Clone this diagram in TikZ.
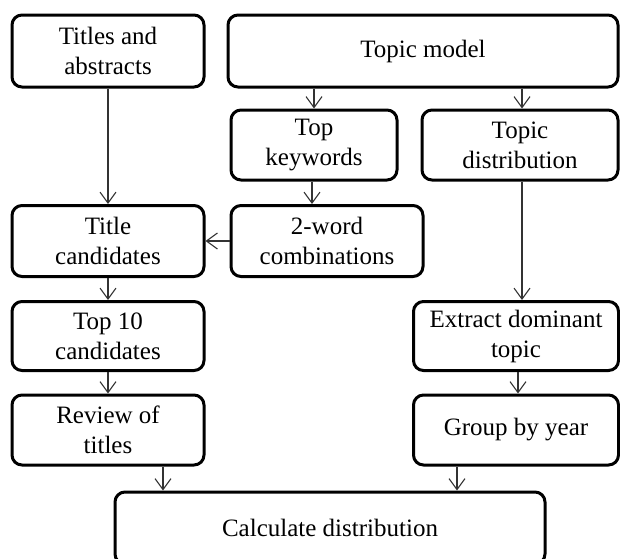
\documentclass[tikz,border=0pt]{standalone}
\usepackage{fontspec}
\setmainfont{Liberation Serif}
\usetikzlibrary{arrows.meta}
\begin{document}
\begin{tikzpicture}[x=1pt, y=-1pt,
		box/.style = {draw, line width=3pt, rounded corners=10pt, align=center, inner sep=0pt,
			font=\fontsize{25}{30}\selectfont},
		arr/.style = {line width=1.1pt, draw=black!80, -{Straight Barb[length=11pt, width=16pt, line width=1.1pt]}}]
		\useasboundingbox (0,0) rectangle (620,558);
		\node[box, minimum width=192pt, minimum height=72pt] (titles) at (108,51) {Titles and\\abstracts};
		\node[box, minimum width=390pt, minimum height=72pt] (model) at (423,51) {Topic model};
		\node[box, minimum width=166pt, minimum height=70pt] (keywords) at (314,145) {Top\\keywords};
		\node[box, minimum width=196pt, minimum height=70pt] (tdist) at (520,145) {Topic\\distribution};
		\node[box, minimum width=192pt, minimum height=71pt] (cands) at (108,241) {Title\\candidates};
		\node[box, minimum width=192pt, minimum height=71pt] (combos) at (327,241) {2-word\\combinations};
		\node[box, minimum width=192pt, minimum height=69pt] (top10) at (108,336) {Top 10\\candidates};
		\node[box, minimum width=192pt, minimum height=70pt] (review) at (108,430) {Review of\\titles};
		\node[box, minimum width=205pt, minimum height=69pt] (dominant) at (516,336) {Extract dominant\\topic};
		\node[box, minimum width=205pt, minimum height=70pt] (year) at (516,430) {Group by year};
		\node[box, minimum width=430pt, minimum height=72pt] (calc) at (330,528) {Calculate distribution};
		\draw[arr] (titles) -- (cands);
		\draw[arr] (keywords.north |- model.south) -- (keywords.north);
		\draw[arr] ([xshift=2pt]tdist.north |- model.south) -- ([xshift=2pt]tdist.north);
		\draw[arr] ([xshift=-2pt]keywords.south) -- ([xshift=-2pt]keywords.south |- combos.north);
		\draw[arr] (combos) -- (cands);
		\draw[arr] ([xshift=2pt]tdist.south) -- ([xshift=2pt]tdist.south |- dominant.north);
		\draw[arr] (cands) -- (top10);
		\draw[arr] (top10) -- (review);
		\draw[arr] ([xshift=2pt]dominant.south) -- ([xshift=2pt]year.north);
		\draw[arr] ([xshift=55pt]review.south) -- ([xshift=55pt]review.south |- calc.north);
		\draw[arr] ([xshift=-59pt]year.south) -- ([xshift=-59pt]year.south |- calc.north);
	\end{tikzpicture}
\end{document}
